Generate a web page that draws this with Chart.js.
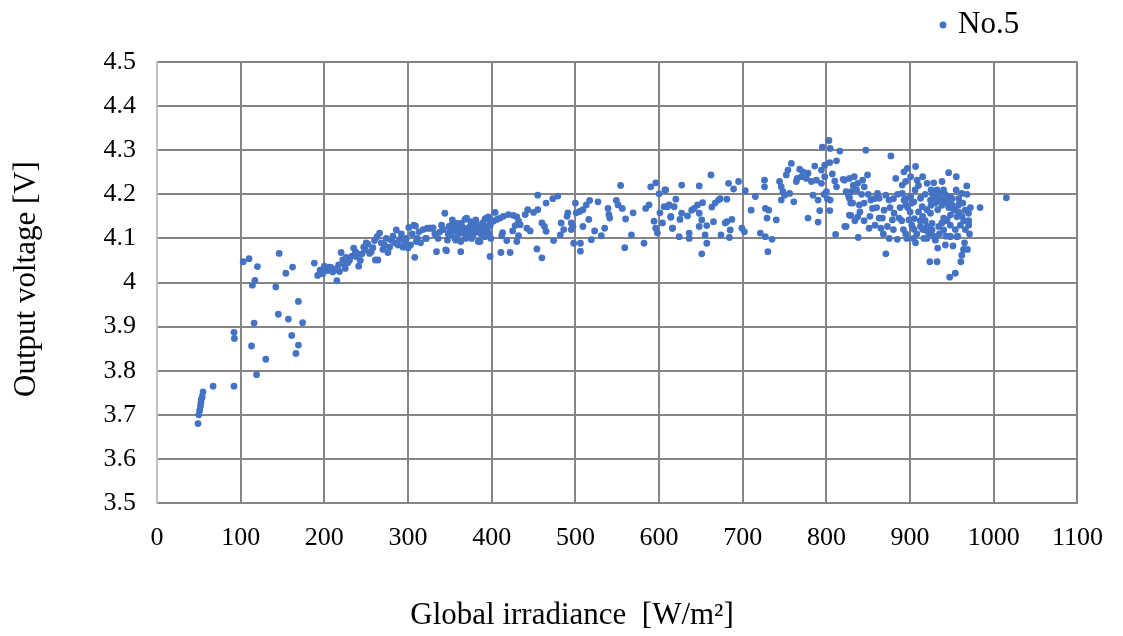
<!DOCTYPE html>
<html>
<head>
<meta charset="utf-8">
<script src="https://cdn.jsdelivr.net/npm/chart.js@4"></script>
<style>
  html, body { margin: 0; padding: 0; background: #fff; }
  #chart { display: block; }
</style>
</head>
<body>
<canvas id="chart" width="1123" height="636"></canvas>
<script>
const seriesLabel = 'No.5';
const xTitle = 'Global irradiance  [W/m²]';
const yTitle = 'Output voltage [V]';
const irradianceTicks = [0, 100, 200, 300, 400, 500, 600, 700, 800, 900, 1000, 1100];
const voltageTicks = [3.5, 3.6, 3.7, 3.8, 3.9, 4.0, 4.1, 4.2, 4.3, 4.4, 4.5];

// [irradiance W/m2, voltage V]
const lowBand = [
  [49,3.680],[50,3.700],[51,3.710],[52,3.720],[52.5,3.728],[53,3.735],[54,3.741],[55,3.752],[67,3.765],[92,3.765],
  [92,3.887],[92.5,3.873],[103,4.047],[110,4.054],[113,3.856],[114,3.994],[117,4.005],[116,3.908],[119,3.791],[120,4.036],
  [130,3.826],[142,3.990],[145,3.928],[146,4.066],[154,4.021],[157,3.917],[161,3.880],[162,4.035],[166,3.839],[169,3.957],
  [169,3.858],[174,3.909],
  [188,4.044],[192,4.016],[195,4.028],[198,4.020],[200,4.037],[202,4.030],[204,4.027],[206,4.035],[208,4.034],[210,4.024],
  [212,4.030],[215,4.004],[217,4.040],[218,4.025],[220,4.068],[222,4.051],[224,4.040],[225,4.032],[226,4.057],[228,4.045],
  [230,4.050],[233,4.060],[235,4.078],[237,4.070],[238,4.059],[240,4.065],[241,4.037],[243,4.050],[245,4.065],[247,4.080],
  [249,4.074],[250,4.090],[252,4.087],[254,4.066],[256,4.070],[258,4.079],[260,4.095],[261,4.051],[263,4.104],[264,4.051],
  [266,4.112],[268,4.090],[270,4.075],[272,4.085],[274,4.100],[276,4.068],[278,4.080],[280,4.096],[282,4.105],[284,4.090],
  [286,4.119],[288,4.085],[290,4.098],[292,4.110],[294,4.080],[296,4.089],[298,4.100],[300,4.078]
];

const midBand = [
  [301,4.125],[303,4.085],[305,4.110],[307,4.130],[308,4.057],[309,4.128],[310,4.093],[311,4.100],[313,4.115],[315,4.090],
  [318,4.120],[321,4.100],[322,4.100],[323,4.123],[326,4.123],[327,4.123],[330,4.124],[332,4.110],[334,4.070],[336,4.100],
  [338,4.115],[340,4.130],[342,4.120],[344,4.157],[345,4.074],[346,4.072],[347,4.096],[348,4.110],[349,4.127],[350,4.115],
  [351,4.108],[352,4.130],[353,4.142],[354,4.120],[355,4.130],[356,4.100],[357,4.096],[358,4.115],[359,4.134],[360,4.110],
  [361,4.125],[363,4.070],[363,4.093],[363,4.134],[364,4.130],[365,4.112],[366,4.120],[367,4.119],[368,4.143],[369,4.100],
  [370,4.146],[371,4.123],[372,4.108],[373,4.112],[374,4.127],[375,4.138],[376,4.100],[377,4.120],[378,4.108],[379,4.123],
  [380,4.138],[381,4.142],[382,4.115],[383,4.130],[384,4.093],[385,4.119],[386,4.093],[387,4.110],[388,4.125],[389,4.135],
  [390,4.130],[391,4.120],[392,4.104],[393,4.108],[394,4.146],[395,4.115],[396,4.149],[397,4.130],[398,4.128],[398,4.059],
  [399,4.100],[392,4.144],[394,4.146],[398,4.143],[404,4.159],[402,4.139],[398,4.129],[397,4.110],
  [406,4.143],[410,4.146],[414,4.150],[420,4.154],[426,4.152],[430,4.149],[432,4.139],[434,4.131],[428,4.129],[425,4.117],
  [413,4.113],[412,4.106],[418,4.095],[432,4.106],[430,4.093],[411,4.068],[422,4.068],
  [440,4.154],[443,4.165],[450,4.159],[455,4.165],[455,4.198],[460,4.135],[463,4.127],[465,4.116],[446,4.117],[442,4.123],
  [454,4.076],[460,4.056],[474,4.095],[465,4.180],[473,4.190],[479,4.196],[483,4.135],[486,4.120],[482,4.108],[491,4.158],
  [490,4.150],[495,4.135],[500,4.180],[497,4.127],[495,4.120],[498,4.089],[506,4.089],[506,4.071],[501,4.158],[505,4.161],
  [509,4.165],[513,4.176],[517,4.186],[527,4.183],[509,4.127],[516,4.143],[523,4.117],[519,4.097],[531,4.106],[535,4.123],
  [539,4.168],[540,4.154],[541,4.146],[549,4.186],[551,4.176],[556,4.168],[554,4.220],[560,4.144],[569,4.158],[567,4.108],
  [559,4.079],[582,4.089],[584,4.168],[588,4.176],[590,4.217],[596,4.226],[600,4.201],[607,4.210],[594,4.139],[596,4.123],
  [598,4.112],[601,4.158],[604,4.135],[606,4.172],[612,4.176],[616,4.123],[614,4.150]
];

const highBand = [
  [608,4.210],[627,4.221],[648,4.219],[662,4.244],[683,4.225],[695,4.229],[689,4.212],[703,4.208],[715,4.195],[726,4.232],
  [726,4.217],[710,4.164],[727,4.168],[731,4.164],[729,4.146],[740,4.142],[721,4.112],[727,4.104],[735,4.098],[730,4.070],
  [699,4.123],[702,4.115],[687,4.143],[681,4.138],[679,4.135],[685,4.119],[684,4.102],[674,4.108],[671,4.187],[667,4.180],
  [663,4.171],[673,4.190],[681,4.189],[665,4.138],[657,4.129],[655,4.108],[657,4.089],[651,4.065],[648,4.127],[651,4.142],
  [648,4.157],[652,4.181],[646,4.176],[642,4.168],[639,4.164],[636,4.112],[636,4.100],[624,4.104],[627,4.157],[625,4.143],
  [634,4.151],[614,4.148],[616,4.123],[620,4.189],[610,4.172],[618,4.172],
  [795,4.307],[803,4.322],[804.5,4.304],[816,4.298],[758,4.270],[754,4.255],[752,4.244],[768,4.257],[772,4.251],[778,4.248],
  [786,4.264],[794,4.255],[798,4.266],[804,4.272],[812,4.276],[807,4.246],[744,4.229],[746,4.217],[748,4.206],[750,4.198],
  [746,4.187],[756,4.202],[761,4.183],[764,4.229],[776,4.236],[782,4.229],[788,4.232],[784,4.198],[790,4.187],[792,4.163],
  [794,4.225],[800,4.206],[804.5,4.187],[812,4.217],[820,4.234],[823.5,4.206],[827,4.195],[829,4.180],[829,4.152],[822,4.127],
  [811,4.109],[778,4.146],[790,4.137],[804,4.163],[765,4.236],[770,4.240],[798,4.240],[810,4.230],[797,4.200],[801,4.190],
  [821.5,4.232],[827.4,4.236],[833.3,4.240],[837.3,4.225],[843.2,4.232],[849.1,4.244],[845.2,4.217],[829.4,4.206],[827.4,4.191],[831.3,4.180],
  [839.3,4.176],[827.4,4.153],[837.3,4.149],[853.1,4.187],[855,4.168],[861,4.202],[863,4.191],[871,4.198],[874.8,4.187],[868.9,4.164],
  [863,4.146],[866.9,4.146],[865,4.123],[872.9,4.127],[878.8,4.142],[880.8,4.157],[886.7,4.146],[823.5,4.127],
  [847,4.300],[877,4.287],[1015,4.192],[983.6,4.170],[871,4.065],[838,4.102],[851,4.123],[884.7,4.098],
  [892.6,4.251],[896.6,4.259],[906.5,4.263],[900.6,4.240],[908.4,4.232],[894.7,4.229],[890.6,4.221],[882.8,4.236],[920.3,4.225],[928.2,4.226],
  [938.1,4.229],[946,4.249],[955.2,4.240],[967.7,4.219],[961.8,4.202],[890.6,4.202],[892.6,4.187],[900.6,4.195],[904.5,4.183],[912.4,4.191],
  [914.4,4.172],[894.7,4.176],[898.6,4.142],[904.5,4.121],[894.7,4.110],[906.5,4.090],[912.4,4.127],[918.4,4.119],[916.4,4.100],[924.3,4.157],
  [926.2,4.134],[922.3,4.112],[930.2,4.096],[934.2,4.127],[940.1,4.146],[944.1,4.142],[948.1,4.153],[954,4.164],[956,4.149],[965.8,4.164],
  [969.8,4.157],[940.1,4.187],[936.2,4.202],[932.2,4.210],[928.2,4.195],[924.3,4.187],[948.1,4.195],[950,4.176],[957.9,4.176],[940.1,4.119],
  [948.1,4.104],[956,4.104],[971,4.110],[942.1,4.085],[951.2,4.083],[932.9,4.078],[963.8,4.075],[968.5,4.075],[961.8,4.062],[960.6,4.047],
  [923.5,4.047],[932.2,4.047],[947.3,4.012],[954,4.021],[926.2,4.119],[920.3,4.127],[943,4.105],[948,4.105],[957,4.105],
  [930,4.180],[935,4.190],[938,4.175],[942,4.200],[945,4.180],[933,4.165],[927,4.200],[940,4.210],[946,4.170],[936,4.185],
  [931,4.195],[944,4.190],[950,4.190],[952,4.165],[958,4.160],[962,4.150],[925,4.175],[920,4.165],[918,4.140],[915,4.150],
  [910,4.160],[912,4.140],[905,4.145],[902,4.130],[908,4.110],[915,4.120],[920,4.100],[928,4.105],[935,4.110],[938,4.135],
  [942,4.140],[948,4.130],[954,4.120],[960,4.130],[964,4.140],[966,4.120],[970,4.140],[897,4.170],[900,4.160],[902,4.180],
  [895,4.190],[888,4.170],[885,4.200],[880,4.190],[876,4.170],[860,4.170],[857,4.190],[850,4.200],[845,4.180],[842,4.200],
  [836,4.210],[832,4.220],[826,4.200],[840,4.160],[834,4.140],[845,4.140],[852,4.150],[858,4.130],[868,4.110],[875,4.100],
  [880,4.120],[890,4.140],[892,4.120],[896,4.100],[904,4.100],[906,4.210],[910,4.220],[915,4.240],[918,4.200],[925,4.210],
  [955,4.210],[958,4.190],[963,4.180],[968,4.200],[972,4.170],[965,4.090],[970,4.130]
];

const points = lowBand.concat(midBand, highBand).map(([x, y]) => ({ x, y }));

const gridGrey = '#858585';
const axisGrey = '#bfbfbf';
const tickFont = { family: '"Liberation Serif", "Times New Roman", serif', size: 26 };

// axis titles and the legend entry, placed like the original
const chartLabels = {
  id: 'chartLabels',
  afterDraw(chart) {
    const ctx = chart.ctx;
    const ds = chart.data.datasets[0];
    ctx.save();
    ctx.fillStyle = '#000';
    ctx.textBaseline = 'middle';
    ctx.textAlign = 'center';
    ctx.font = '31px "Liberation Serif", serif';
    ctx.fillText(xTitle, 572, 616);
    ctx.save();
    ctx.translate(27, 279);
    ctx.rotate(-Math.PI / 2);
    ctx.fillText(yTitle, 0, 0);
    ctx.restore();

    ctx.beginPath();
    ctx.arc(943, 25, 3.4, 0, Math.PI * 2);
    ctx.fillStyle = ds.backgroundColor;
    ctx.fill();
    ctx.fillStyle = '#000';
    ctx.textAlign = 'left';
    ctx.font = '31px "Liberation Serif", serif';
    ctx.fillText(ds.label, 958, 25);
    ctx.restore();
  }
};

new Chart(document.getElementById('chart'), {
  type: 'scatter',
  data: {
    datasets: [{
      label: seriesLabel,
      data: points,
      backgroundColor: '#4472C4',
      borderWidth: 0,
      pointRadius: 3.4,
      pointHoverRadius: 3.4
    }]
  },
  options: {
    responsive: false,
    animation: false,
    layout: { padding: { top: 62, right: 38, left: 0, bottom: 0 } },
    plugins: {
      legend: { display: false },
      tooltip: { enabled: false }
    },
    scales: {
      x: {
        type: 'linear',
        min: 0,
        max: 1100,
        afterBuildTicks: (scale) => { scale.ticks = irradianceTicks.map(v => ({ value: v })); },
        afterFit: (scale) => { scale.height = 133; },
        ticks: {
          font: tickFont,
          color: '#000',
          padding: 20,
          maxRotation: 0,
          autoSkip: false,
          callback: (value) => String(value)
        },
        grid: {
          color: (c) => (c.tick && c.tick.value === 0 ? axisGrey : gridGrey),
          lineWidth: 2,
          drawTicks: false
        },
        border: { color: gridGrey, width: 2 }
      },
      y: {
        type: 'linear',
        min: 3.5,
        max: 4.5,
        afterBuildTicks: (scale) => { scale.ticks = voltageTicks.map(v => ({ value: v })); },
        afterFit: (scale) => { scale.width = 157; },
        ticks: {
          font: tickFont,
          color: '#000',
          padding: 21,
          autoSkip: false,
          callback: (value) => String(Number(value.toFixed(1)))
        },
        grid: { color: gridGrey, lineWidth: 2, drawTicks: false },
        border: { color: axisGrey, width: 2 }
      }
    }
  },
  plugins: [chartLabels]
});
</script>
</body>
</html>
